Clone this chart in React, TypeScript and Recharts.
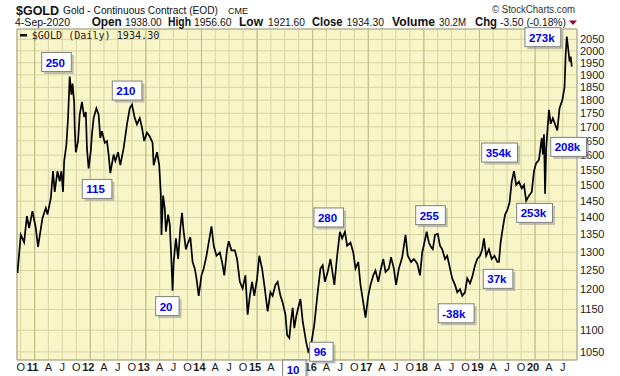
import React from 'react';
import {
  LineChart,
  Line,
  XAxis,
  YAxis,
  CartesianGrid,
  ReferenceLine,
  ReferenceDot,
  ReferenceArea,
} from 'recharts';

// ---- Data (decimal year, daily close of gold continuous contract) ----
const goldDates = [
  2010.69, 2010.75, 2010.81, 2010.86, 2010.9, 2010.96, 2011.02, 2011.06, 2011.14, 2011.2,
  2011.23, 2011.29, 2011.33, 2011.36, 2011.41, 2011.45, 2011.48, 2011.51, 2011.53, 2011.57,
  2011.6, 2011.63, 2011.66, 2011.68, 2011.71, 2011.72, 2011.74, 2011.78, 2011.81, 2011.85,
  2011.89, 2011.92, 2011.94, 2011.97, 2012.01, 2012.03, 2012.06, 2012.11, 2012.15, 2012.18,
  2012.21, 2012.26, 2012.3, 2012.33, 2012.36, 2012.42, 2012.45, 2012.5, 2012.54, 2012.6,
  2012.66, 2012.71, 2012.75, 2012.8, 2012.84, 2012.89, 2012.93, 2012.97, 2013.02, 2013.07,
  2013.12, 2013.14, 2013.2, 2013.24, 2013.27, 2013.28, 2013.31, 2013.34, 2013.36, 2013.4,
  2013.43, 2013.46, 2013.48, 2013.5, 2013.54, 2013.58, 2013.62, 2013.65, 2013.68, 2013.72,
  2013.76, 2013.8, 2013.84, 2013.88, 2013.91, 2013.95, 2014.0, 2014.04, 2014.09, 2014.13,
  2014.18, 2014.22, 2014.27, 2014.33, 2014.37, 2014.41, 2014.46, 2014.49, 2014.54, 2014.6,
  2014.64, 2014.69, 2014.74, 2014.79, 2014.83, 2014.87, 2014.91, 2014.95, 2015.0, 2015.04,
  2015.09, 2015.13, 2015.19, 2015.24, 2015.28, 2015.33, 2015.37, 2015.42, 2015.46, 2015.51,
  2015.54, 2015.58, 2015.61, 2015.64, 2015.67, 2015.71, 2015.78, 2015.82, 2015.88, 2015.92,
  2015.97, 2016.03, 2016.09, 2016.14, 2016.18, 2016.22, 2016.27, 2016.32, 2016.39, 2016.44,
  2016.49, 2016.53, 2016.58, 2016.62, 2016.68, 2016.73, 2016.77, 2016.82, 2016.86, 2016.91,
  2016.95, 2017.0, 2017.04, 2017.09, 2017.13, 2017.18, 2017.22, 2017.27, 2017.31, 2017.37,
  2017.41, 2017.46, 2017.5, 2017.55, 2017.61, 2017.67, 2017.71, 2017.77, 2017.82, 2017.88,
  2017.93, 2017.97, 2018.01, 2018.05, 2018.09, 2018.13, 2018.16, 2018.2, 2018.25, 2018.29,
  2018.33, 2018.38, 2018.42, 2018.47, 2018.51, 2018.56, 2018.6, 2018.65, 2018.69, 2018.74,
  2018.78, 2018.83, 2018.87, 2018.92, 2018.96, 2019.01, 2019.05, 2019.08, 2019.12, 2019.17,
  2019.22, 2019.27, 2019.32, 2019.35, 2019.38, 2019.42, 2019.46, 2019.5, 2019.54, 2019.58,
  2019.62, 2019.66, 2019.71, 2019.76, 2019.8, 2019.84, 2019.89, 2019.94, 2019.98, 2020.02,
  2020.07, 2020.12, 2020.14, 2020.16, 2020.18, 2020.2, 2020.23, 2020.25, 2020.28, 2020.32,
  2020.36, 2020.4, 2020.44, 2020.49, 2020.53, 2020.55, 2020.57, 2020.6, 2020.62, 2020.64,
  2020.66,
];

const goldClose = [
  1243, 1349, 1328, 1404, 1369, 1419, 1369, 1315, 1398, 1429,
  1409, 1459, 1546, 1479, 1546, 1513, 1546, 1479, 1579, 1636,
  1732, 1893, 1821, 1865, 1791, 1697, 1610, 1649, 1745, 1793,
  1736, 1755, 1624, 1555, 1615, 1673, 1732, 1769, 1745, 1660,
  1684, 1643, 1649, 1602, 1540, 1602, 1580, 1610, 1566, 1624,
  1709, 1769, 1783, 1732, 1709, 1732, 1697, 1649, 1679, 1665,
  1643, 1566, 1610, 1566, 1467, 1349, 1467, 1427, 1358, 1409,
  1379, 1273, 1197, 1273, 1339, 1281, 1369, 1414, 1358, 1308,
  1327, 1342, 1273, 1255, 1229, 1184, 1237, 1255, 1290, 1327,
  1374, 1318, 1290, 1299, 1273, 1237, 1308, 1331, 1305, 1305,
  1281, 1220, 1203, 1237, 1137, 1184, 1220, 1184, 1229, 1290,
  1255, 1212, 1145, 1193, 1184, 1212, 1220, 1184, 1167, 1137,
  1089, 1082, 1122, 1154, 1105, 1137, 1176, 1122, 1074, 1051,
  1066, 1114, 1193, 1255, 1264, 1220, 1246, 1281, 1212, 1290,
  1358, 1339, 1358, 1318, 1327, 1299, 1255, 1273, 1212, 1167,
  1130, 1184, 1212, 1237, 1250, 1220, 1250, 1281, 1246, 1255,
  1286, 1255, 1212, 1255, 1286, 1349, 1290, 1273, 1281, 1269,
  1237, 1299, 1327, 1358, 1327, 1314, 1308, 1349, 1352, 1318,
  1308, 1281, 1290, 1255, 1229, 1212, 1193, 1201, 1184, 1193,
  1229, 1216, 1233, 1264, 1281, 1290, 1308, 1339, 1290, 1308,
  1281, 1290, 1273, 1273, 1327, 1369, 1409, 1422, 1445, 1512,
  1546, 1501, 1512, 1490, 1501, 1451, 1467, 1479, 1546, 1573,
  1584, 1660, 1602, 1673, 1473, 1624, 1709, 1763, 1711, 1732,
  1709, 1687, 1769, 1800, 1850, 1985, 2062, 2000, 1955, 1976,
  1934,
];

// ---- Axes ----
const xTicks = [
  2010.748,
  2011.0, 2011.247, 2011.496, 2011.748,
  2012.0, 2012.247, 2012.496, 2012.748,
  2013.0, 2013.247, 2013.496, 2013.748,
  2014.0, 2014.247, 2014.496, 2014.748,
  2015.0, 2015.247, 2015.496, 2015.748,
  2016.0, 2016.247, 2016.496, 2016.748,
  2017.0, 2017.247, 2017.496, 2017.748,
  2018.0, 2018.247, 2018.496, 2018.748,
  2019.0, 2019.247, 2019.496, 2019.748,
  2020.0, 2020.247, 2020.496,
];
const xTickLabels = [
  'O',
  '11', 'A', 'J', 'O',
  '12', 'A', 'J', 'O',
  '13', 'A', 'J', 'O',
  '14', 'A', 'J', 'O',
  '15', 'A', 'J', 'O',
  '16', 'A', 'J', 'O',
  '17', 'A', 'J', 'O',
  '18', 'A', 'J', 'O',
  '19', 'A', 'J', 'O',
  '20', 'A', 'J',
];
const yearStarts = [2011, 2012, 2013, 2014, 2015, 2016, 2017, 2018, 2019, 2020];
const yTicks = [
  1050, 1100, 1150, 1200, 1250, 1300, 1350, 1400, 1450, 1500, 1550,
  1600, 1650, 1700, 1750, 1800, 1850, 1900, 1950, 2000, 2050,
];

// ---- Annotations (top-left corner of each note, in date / price units) ----
const noteLabels = ['250', '115', '210', '20', '10', '96', '280', '255', '-38k', '37k', '354k', '253k', '208k', '273k'];
const noteDates = [2011.126, 2011.856, 2012.396, 2013.176, 2015.46, 2015.946, 2016.023, 2017.853, 2018.259, 2019.068, 2019.04, 2019.669, 2020.281, 2019.818];
const notePrices = [1993, 1519, 1875, 1182, 1032, 1072, 1429, 1436, 1164, 1253, 1642, 1443, 1662, 2102];

const data = goldDates.map((t, i) => ({ t, close: goldClose[i] }));

const X_DOMAIN: [number, number] = [2010.682, 2020.754];
const Y_DOMAIN: [number, number] = [1032, 2096];
const MARGIN = { top: 29, right: 0, bottom: 0, left: 17 };

const FONT = '"Liberation Sans", Arial, sans-serif';

const XTick = (props: any) => {
  const { x, y, index } = props;
  const label = xTickLabels[index] ?? '';
  const isYear = /\d/.test(label);
  return (
    <text
      x={x + (isYear ? -2 : 0)}
      y={y + 10.5}
      textAnchor="middle"
      fontSize={11}
      fontFamily={FONT}
      fontWeight={isYear ? 'bold' : 'normal'}
      fill="#1a1a1a"
    >
      {label}
    </text>
  );
};

const NoteBox = (props: any) => {
  const { cx, cy, label } = props;
  if (cx == null || cy == null) return null;
  const w = 6.2 * label.length + 11;
  const h = 19;
  return (
    <g>
      <rect x={cx + 2.5} y={cy + 2.5} width={w} height={h} fill="#8c8c8c" opacity={0.5} />
      <rect x={cx} y={cy} width={w} height={h} fill="#ffffff" stroke="#808080" strokeWidth={1} />
      <text x={cx + 4} y={cy + 14} fontSize={11.5} fontWeight="bold" fontFamily={FONT} fill="#0000ee">
        {label}
      </text>
    </g>
  );
};

const Header = () => (
  <svg width={620} height={29} style={{ position: 'absolute', left: 0, top: 0 }}>
    <text x={16} y={14.5} fontSize={13.5} fontWeight="bold" fontFamily={FONT} fill="#111" textLength={43} lengthAdjust="spacingAndGlyphs">$GOLD</text>
    <text x={63} y={14} fontSize={10} fontFamily={FONT} fill="#111" textLength={155} lengthAdjust="spacingAndGlyphs">Gold - Continuous Contract (EOD)</text>
    <text x={228} y={14} fontSize={9} fontFamily={FONT} fill="#111" textLength={20} lengthAdjust="spacingAndGlyphs">CME</text>
    <text x={492} y={13} fontSize={10} fontFamily={FONT} fill="#333" textLength={83} lengthAdjust="spacingAndGlyphs">© StockCharts.com</text>

    <text x={15} y={26} fontSize={10.5} fontFamily={FONT} fill="#111" textLength={55} lengthAdjust="spacingAndGlyphs">4-Sep-2020</text>
    <text x={91.7} y={26} fontSize={12} fontWeight="bold" fontFamily={FONT} fill="#111" textLength={30} lengthAdjust="spacingAndGlyphs">Open</text>
    <text x={125} y={26} fontSize={10.5} fontFamily={FONT} fill="#111" textLength={36.7} lengthAdjust="spacingAndGlyphs">1938.00</text>
    <text x={168} y={26} fontSize={12} fontWeight="bold" fontFamily={FONT} fill="#111" textLength={23} lengthAdjust="spacingAndGlyphs">High</text>
    <text x={194} y={26} fontSize={10.5} fontFamily={FONT} fill="#111" textLength={37.5} lengthAdjust="spacingAndGlyphs">1956.60</text>
    <text x={239} y={26} fontSize={12} fontWeight="bold" fontFamily={FONT} fill="#111" textLength={24} lengthAdjust="spacingAndGlyphs">Low</text>
    <text x={268} y={26} fontSize={10.5} fontFamily={FONT} fill="#111" textLength={37} lengthAdjust="spacingAndGlyphs">1921.60</text>
    <text x={312} y={26} fontSize={12} fontWeight="bold" fontFamily={FONT} fill="#111" textLength={30.5} lengthAdjust="spacingAndGlyphs">Close</text>
    <text x={346.5} y={26} fontSize={10.5} fontFamily={FONT} fill="#111" textLength={37.5} lengthAdjust="spacingAndGlyphs">1934.30</text>
    <text x={392} y={26} fontSize={12} fontWeight="bold" fontFamily={FONT} fill="#111" textLength={43} lengthAdjust="spacingAndGlyphs">Volume</text>
    <text x={439} y={26} fontSize={10.5} fontFamily={FONT} fill="#111" textLength={27} lengthAdjust="spacingAndGlyphs">30.2M</text>
    <text x={475} y={26} fontSize={12} fontWeight="bold" fontFamily={FONT} fill="#111" textLength={22} lengthAdjust="spacingAndGlyphs">Chg</text>
    <text x={500} y={26} fontSize={10.5} fontFamily={FONT} fill="#111" textLength={66} lengthAdjust="spacingAndGlyphs">-3.50 (-0.18%)</text>
    <polygon points="569,20.5 577,20.5 573,25" fill="#a00020" />
  </svg>
);

const LegendRow = () => (
  <svg width={200} height={14} style={{ position: 'absolute', left: 17, top: 29, pointerEvents: 'none' }}>
    <rect x={3} y={5} width={7} height={2.5} fill="#111" />
    <text x={14.7} y={9.6} fontSize={10} fontFamily='"DejaVu Sans Mono", monospace' fill="#222" textLength={127.6} lengthAdjust="spacingAndGlyphs">
      $GOLD (Daily) 1934.30
    </text>
  </svg>
);

export default function App() {
  return (
    <div style={{ position: 'absolute', left: 0, top: 0, width: 620, height: 376, background: '#ffffff', overflow: 'hidden' }}>
      <LineChart width={620} height={376} data={data} margin={MARGIN}>
        <CartesianGrid stroke="#d8d5a2" strokeWidth={1} fill="#f8f6c8" fillOpacity={1} />
        {yearStarts.map((yr) => (
          <ReferenceLine key={yr} x={yr} stroke="#bdbb86" strokeWidth={1} />
        ))}
        <XAxis
          dataKey="t"
          type="number"
          domain={X_DOMAIN}
          ticks={xTicks}
          interval={0}
          allowDataOverflow
          tickLine={false}
          axisLine={false}
          tickSize={0}
          tickMargin={0}
          height={16}
          tick={<XTick />}
        />
        <YAxis
          orientation="right"
          type="number"
          scale="log"
          domain={Y_DOMAIN}
          ticks={yTicks}
          interval={0}
          allowDataOverflow
          tickLine={false}
          axisLine={false}
          tickSize={0}
          tickMargin={3}
          width={43}
          tick={{ fontSize: 11, fill: '#1a1a1a', fontFamily: FONT }}
        />
        <ReferenceArea
          x1={X_DOMAIN[0]}
          x2={X_DOMAIN[1]}
          y1={Y_DOMAIN[0]}
          y2={Y_DOMAIN[1]}
          fill="none"
          stroke="#a3a185"
          strokeWidth={1}
          ifOverflow="visible"
        />
        <Line
          type="linear"
          dataKey="close"
          name="$GOLD (Daily)"
          stroke="#000000"
          strokeWidth={1.7}
          dot={false}
          isAnimationActive={false}
        />
      </LineChart>
      <Header />
      <LegendRow />
      {/* annotation layer: same layout and scales, drawn above axes */}
      <div style={{ position: 'absolute', left: 0, top: 0, pointerEvents: 'none' }}>
        <LineChart width={620} height={376} data={data} margin={MARGIN}>
          <XAxis dataKey="t" type="number" domain={X_DOMAIN} allowDataOverflow height={16} tick={false} tickLine={false} axisLine={false} />
          <YAxis orientation="right" type="number" scale="log" domain={Y_DOMAIN} allowDataOverflow width={43} tick={false} tickLine={false} axisLine={false} />
          {noteLabels.map((lab, i) => (
            <ReferenceDot
              key={lab}
              x={noteDates[i]}
              y={notePrices[i]}
              r={0}
              ifOverflow="visible"
              shape={(p: any) => <NoteBox {...p} label={lab} />}
            />
          ))}
        </LineChart>
      </div>
    </div>
  );
}
